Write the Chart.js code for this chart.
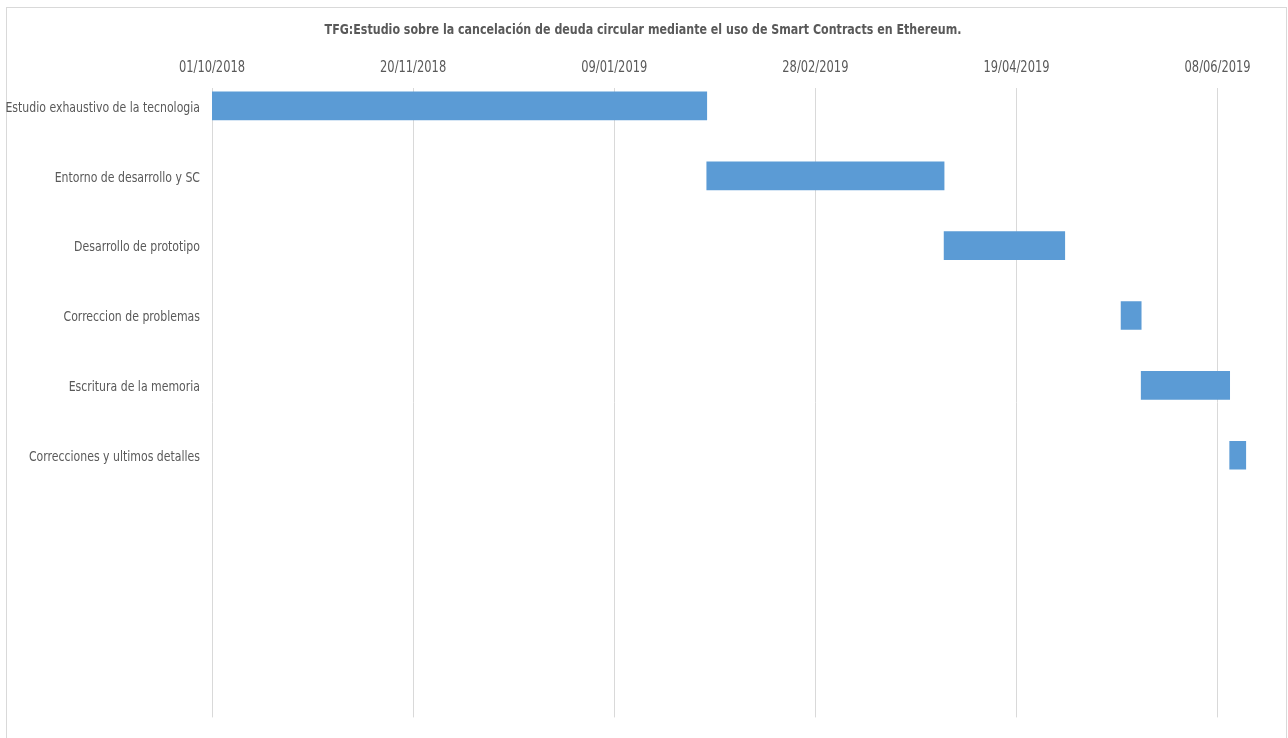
<!DOCTYPE html>
<html>
<head>
<meta charset="utf-8">
<script src="https://cdn.jsdelivr.net/npm/chart.js@4/dist/chart.umd.min.js"></script>
<style>
    body { margin: 0; background: #fff; }
    #frame {
        position: absolute; left: 6px; top: 7px;
        width: 1279px; height: 760px;
        border: 1px solid #d9d9d9;
    }
    #wrap { position: absolute; left: 0; top: 0; width: 1288px; height: 738px; }
</style>
</head>
<body>
<div id="frame"></div>
<div id="wrap"><canvas id="gantt"></canvas></div>
<script>
// Gantt data (dates)
const tasks = [
    "Estudio exhaustivo de la tecnologia",
    "Entorno de desarrollo y SC",
    "Desarrollo de prototipo",
    "Correccion de problemas",
    "Escritura de la memoria",
    "Correcciones y ultimos detalles"
];
const startDates = ["2018-10-01", "2019-02-01", "2019-04-01", "2019-05-15", "2019-05-20", "2019-06-11"];
const endDates   = ["2019-02-01", "2019-04-01", "2019-05-01", "2019-05-20", "2019-06-11", "2019-06-15"];
const tickDates  = ["2018-10-01", "2018-11-20", "2019-01-09", "2019-02-28", "2019-04-19", "2019-06-08"];
const axisEnd = "2019-06-25";

const titleText = "TFG:Estudio sobre la cancelación de deuda circular mediante el uso de Smart Contracts en Ethereum.";

function toMs(s) {
    const p = s.split("-");
    return Date.UTC(+p[0], +p[1] - 1, +p[2]);
}

function fmt(ms) {
    const d = new Date(ms);
    const dd = String(d.getUTCDate()).padStart(2, "0");
    const mm = String(d.getUTCMonth() + 1).padStart(2, "0");
    return dd + "/" + mm + "/" + d.getUTCFullYear();
}

const FONT = "'Liberation Sans Narrow', 'DejaVu Sans Condensed', 'Liberation Sans', sans-serif";
const GREY = "#595959";
const SQUEEZE = 0.85; // the original text is a condensed face (Calibri-like)

// narrow the glyphs a little so text reads like the Excel original
const condensedText = {
    id: "condensedText",
    beforeInit(chart) {
        const ctx = chart.ctx;
        const fill = ctx.fillText.bind(ctx);
        const measure = ctx.measureText.bind(ctx);
        ctx.fillText = function(text, x, y, maxWidth) {
            ctx.save();
            ctx.translate(x, y);
            ctx.scale(SQUEEZE, 1);
            if (maxWidth === undefined) fill(text, 0, 0);
            else fill(text, 0, 0, maxWidth / SQUEEZE);
            ctx.restore();
        };
        ctx.measureText = function(text) {
            const m = measure(text);
            return {
                width: m.width * SQUEEZE,
                actualBoundingBoxAscent: m.actualBoundingBoxAscent,
                actualBoundingBoxDescent: m.actualBoundingBoxDescent
            };
        };
    }
};

const bars = tasks.map((t, i) => ({ x: [toMs(startDates[i]), toMs(endDates[i])], y: i }));

new Chart(document.getElementById("gantt"), {
    type: "bar",
    data: {
        datasets: [{
            data: bars,
            backgroundColor: "#5b9bd5",
            borderWidth: 0,
            barThickness: 28
        }]
    },
    plugins: [condensedText],
    options: {
        indexAxis: "y",
        responsive: true,
        maintainAspectRatio: false,
        animation: false,
        layout: { padding: { left: 0, right: 2, top: 0, bottom: 19 } },
        plugins: {
            legend: { display: false },
            tooltip: { enabled: false },
            title: {
                display: true,
                text: titleText,
                color: GREY,
                font: { family: FONT, size: 14.5, weight: "bold" },
                padding: { top: 22, bottom: 9.6 }
            }
        },
        scales: {
            x: {
                type: "linear",
                position: "top",
                min: toMs(tickDates[0]),
                max: toMs(axisEnd),
                afterBuildTicks: s => { s.ticks = tickDates.map(d => ({ value: toMs(d) })); },
                afterFit: s => { s.height = 39; },
                ticks: {
                    autoSkip: false,
                    maxRotation: 0,
                    padding: 11,
                    color: GREY,
                    font: { family: FONT, size: 15 },
                    callback: v => fmt(v)
                },
                grid: { color: "#d9d9d9", lineWidth: 1, drawTicks: false },
                border: { display: false }
            },
            y: {
                type: "linear",
                reverse: true,
                offset: false,
                min: -0.257,
                max: 8.753,
                afterBuildTicks: s => { s.ticks = tasks.map((t, i) => ({ value: i })); },
                afterFit: s => { s.width = 212; },
                ticks: {
                    autoSkip: false,
                    padding: 12,
                    labelOffset: 2,
                    color: GREY,
                    font: { family: FONT, size: 14.3 },
                    callback: v => tasks[v] || ""
                },
                grid: { display: false, drawTicks: false },
                border: { display: false }
            }
        }
    }
});
</script>
</body>
</html>
